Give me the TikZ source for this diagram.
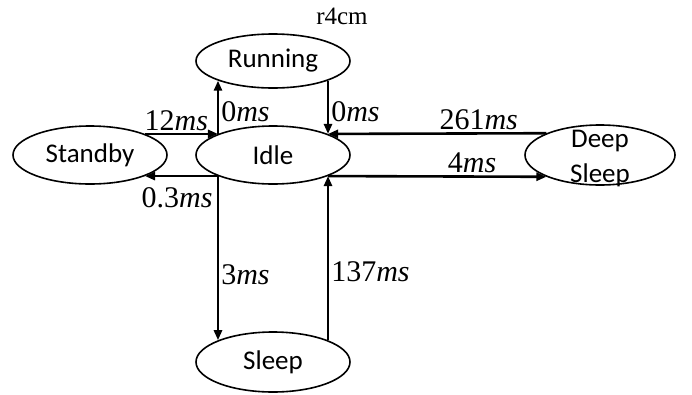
\documentclass[tikz,border=0pt]{standalone}
\usepackage{fontspec}
\setmainfont{Carlito}
\newfontfamily\timesfont{Liberation Serif}
\usetikzlibrary{shapes.geometric,arrows.meta}

\tikzset{
  state/.style={ellipse, draw, line width=1.6pt, minimum width=154pt,
    minimum height=56pt, inner sep=0pt, font=\fontsize{27}{31}\selectfont},
  arr/.style={line width=2.6pt, -{Triangle[length=10pt,width=8pt]}},
  lbl/.style={inner sep=2pt, font=\timesfont\fontsize{30}{34}\selectfont},
}
% a duration: upright number followed by an italic unit
\newcommand{\dur}[1]{#1\textit{ms}}

\begin{document}
\begin{tikzpicture}[x=1pt, y=-1pt]
  \useasboundingbox (0,0) rectangle (692,394);

  \node[font=\timesfont\fontsize{25}{30}\selectfont] (title) at (342,16) {r4cm};

  % states
  \node[state, minimum height=58pt] (standby) at (90,155) {Standby};
  \node[state, minimum height=58pt] (idle)    at (273,155) {Idle};
  \node[state, minimum height=54pt] (running) at (273,61)  {Running};
  \node[state, minimum height=60pt] (sleep)   at (273,362) {Sleep};
  \node[state, minimum width=150pt, minimum height=60pt] (deep) at (600,155)
    {\raisebox{-27pt}[0pt][0pt]{\shortstack{Deep\\[8pt]Sleep}}};

  % transitions with Standby
  \draw[arr] (standby.north east) -- (idle.north west)
    node[lbl, pos=0.43, anchor=south] {\dur{12}};
  \draw[arr] (idle.south west) -- (standby.south east)
    node[lbl, pos=0.56, anchor=north, yshift=-8pt] {\dur{0.3}};

  % transitions with Running
  \draw[arr] (idle.north west) -- (running.south west)
    node[lbl, pos=0.41, anchor=west] {\dur{0}};
  \draw[arr] (running.south east) -- (idle.north east)
    node[lbl, pos=0.59, anchor=west] {\dur{0}};

  % transitions with Deep Sleep
  \draw[arr] (deep.north west) -- (idle.north east)
    node[lbl, pos=0.31, anchor=south] {\dur{261}};
  \draw[arr] (idle.south east) -- (deep.south west)
    node[lbl, pos=0.66, anchor=south] {\dur{4}};

  % transitions with Sleep
  \draw[arr] (idle.south west) -- (sleep.north west)
    node[lbl, pos=0.6, anchor=west] {\dur{3}};
  \draw[arr] (sleep.north east) -- (idle.south east)
    node[lbl, pos=0.42, anchor=west] {\dur{137}};
\end{tikzpicture}
\end{document}
